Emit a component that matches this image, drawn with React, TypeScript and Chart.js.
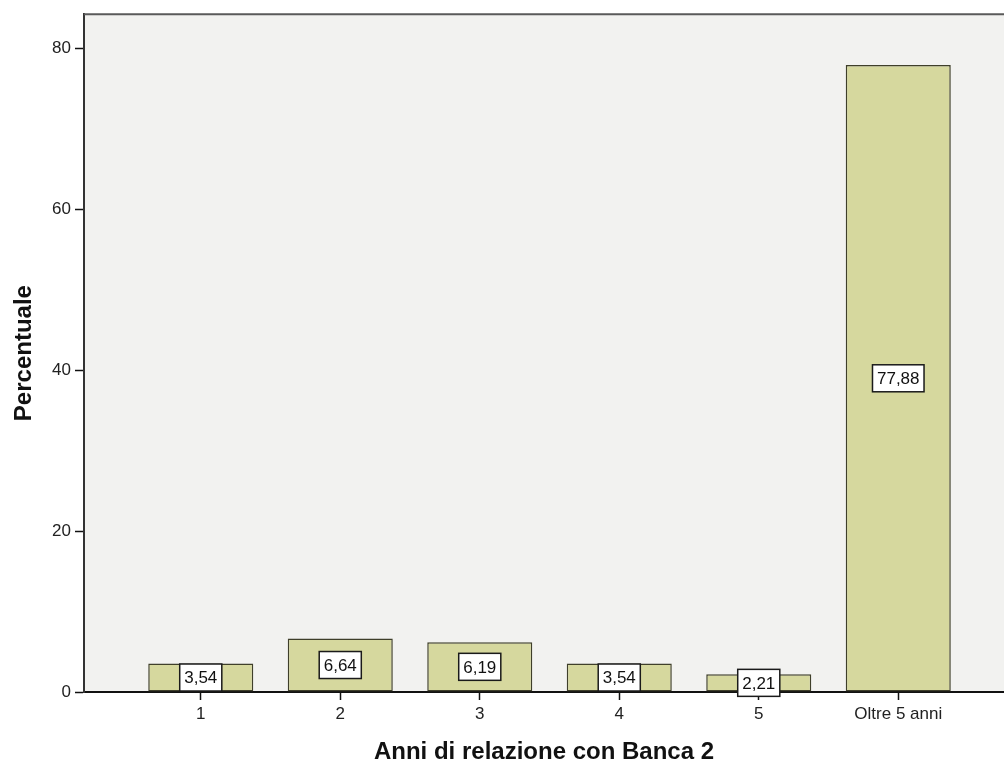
import React, { useEffect, useRef } from "react";
import { Chart, registerables } from "chart.js";

Chart.register(...registerables);

const categories = ["1", "2", "3", "4", "5", "Oltre 5 anni"];
const positions = [1, 2, 3, 4, 5, 6];
const percentages = [3.54, 6.64, 6.19, 3.54, 2.21, 77.88];
const yTicks = [0, 20, 40, 60, 80];
const xTitle = "Anni di relazione con Banca 2";
const yTitle = "Percentuale";

const FONT = "'Liberation Sans', Arial, sans-serif";

const fmt = (v: number) => v.toFixed(2).replace(".", ",");

const bgPlugin = {
  id: "plotBg",
  beforeDraw(chart: any) {
    const { ctx, chartArea } = chart;
    ctx.save();
    ctx.fillStyle = "#f2f2f0";
    ctx.fillRect(chartArea.left, chartArea.top, chartArea.right - chartArea.left, chartArea.bottom - chartArea.top);
    ctx.restore();
  },
  afterDraw(chart: any) {
    const { ctx, chartArea } = chart;
    ctx.save();
    ctx.strokeStyle = "#5a5a5a";
    ctx.lineWidth = 2;
    ctx.beginPath();
    ctx.moveTo(chartArea.left, chartArea.top);
    ctx.lineTo(chartArea.right, chartArea.top);
    ctx.stroke();
    ctx.restore();
  },
};

const labelPlugin = {
  id: "boxLabels",
  afterDatasetsDraw(chart: any) {
    const { ctx } = chart;
    const meta = chart.getDatasetMeta(0);
    ctx.save();
    ctx.font = `17px ${FONT}`;
    ctx.textAlign = "center";
    ctx.textBaseline = "middle";
    meta.data.forEach((el: any, i: number) => {
      const text = fmt(percentages[i]);
      const w = ctx.measureText(text).width + 9;
      const h = 27;
      const cx = el.x;
      const cy = (el.y + el.base) / 2;
      ctx.fillStyle = "#ffffff";
      ctx.fillRect(cx - w / 2, cy - h / 2, w, h);
      ctx.strokeStyle = "#1a1a1a";
      ctx.lineWidth = 1.5;
      ctx.strokeRect(cx - w / 2, cy - h / 2, w, h);
      ctx.fillStyle = "#111111";
      ctx.fillText(text, cx, cy + 1);
    });
    ctx.restore();
  },
};

export default function App() {
  const ref = useRef<HTMLCanvasElement>(null);

  useEffect(() => {
    if (!ref.current) return;
    const chart = new Chart(ref.current, {
      type: "bar",
      data: {
        datasets: [
          {
            data: positions.map((x, i) => ({ x, y: percentages[i] })),
            backgroundColor: "#d6d89e",
            borderColor: "#3f3f2a",
            borderWidth: 1.5,
            borderSkipped: false,
            barPercentage: 0.753,
            categoryPercentage: 1,
          },
        ],
      },
      options: {
        responsive: false,
        animation: false,
        devicePixelRatio: 1,
        layout: { padding: { top: 14, left: 0, right: 0, bottom: 0 } },
        plugins: { legend: { display: false }, tooltip: { enabled: false } },
        scales: {
          x: {
            type: "linear",
            offset: false,
            min: 0.163,
            max: 6.758,
            afterBuildTicks: (axis: any) => {
              axis.ticks = positions.map((v) => ({ value: v }));
            },
            afterFit: (axis: any) => {
              axis.height = 72;
            },
            ticks: {
              autoSkip: false,
              maxRotation: 0,
              padding: 4,
              color: "#222",
              font: { family: FONT, size: 17 },
              callback: (v: any) => categories[positions.indexOf(Number(v))] ?? "",
            },
            grid: { offset: false, drawOnChartArea: false, tickLength: 8, tickColor: "#111", tickWidth: 1.5 },
            border: { display: true, color: "#111", width: 2 },
            title: {
              display: true,
              text: xTitle,
              color: "#111",
              font: { family: FONT, size: 24, weight: "bold", lineHeight: 1 },
              padding: { top: 0, bottom: 0 },
            },
          },
          y: {
            min: 0,
            max: 84.2,
            afterBuildTicks: (axis: any) => {
              axis.ticks = yTicks.map((v) => ({ value: v }));
            },
            afterFit: (axis: any) => {
              axis.width = 84;
            },
            ticks: {
              padding: 4,
              color: "#222",
              font: { family: FONT, size: 17 },
            },
            grid: { drawOnChartArea: false, tickLength: 9, tickColor: "#111", tickWidth: 1.5 },
            border: { display: true, color: "#333", width: 2 },
            title: {
              display: true,
              text: yTitle,
              color: "#111",
              font: { family: FONT, size: 24, weight: "bold", lineHeight: 1 },
              padding: { top: 12, bottom: 0 },
            },
          },
        },
      },
      plugins: [bgPlugin, labelPlugin],
    } as any);
    return () => chart.destroy();
  }, []);

  return (
    <div style={{ position: "absolute", left: 0, top: 0, width: 1004, height: 764, background: "#fff" }}>
      <canvas ref={ref} width={1004} height={764} />
    </div>
  );
}
